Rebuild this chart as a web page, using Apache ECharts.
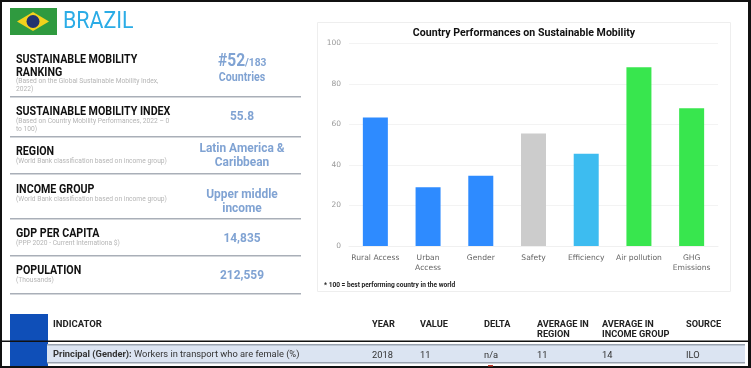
<!DOCTYPE html>
<html>
<head>
<meta charset="utf-8">
<style>
html, body { margin: 0; padding: 0; background: #fff; }
#chart { width: 751px; height: 368px; }
</style>
<script src="https://cdn.jsdelivr.net/npm/echarts@6/dist/echarts.min.js"></script>
</head>
<body>
<div id="chart"></div>
<script>
var categories = ['Rural Access', 'Urban\nAccess', 'Gender', 'Safety', 'Efficiency', 'Air pollution', 'GHG\nEmissions'];
var scores = [63.4, 29, 34.7, 55.6, 45.5, 88.3, 68];
var yTicks = [0, 20, 40, 60, 80, 100];

var profileTitles = ['SUSTAINABLE MOBILITY\nRANKING', 'SUSTAINABLE MOBILITY INDEX', 'REGION', 'INCOME GROUP', 'GDP PER CAPITA', 'POPULATION'];
var profileNotes = [
  '(Based on the Global Sustainable Mobility Index,\n2022)',
  '(Based on Country Mobility Performances, 2022 \u2013 0\nto 100)',
  '(World Bank classification based on income group)',
  '(World Bank classification based on income group)',
  '(PPP 2020 - Current Internationa $)',
  '(Thousands)'
];
var profileValues = ['', '55.8', 'Latin America &\nCaribbean', 'Upper middle\nincome', '14,835', '212,559'];

var tableHeaders = ['YEAR', 'VALUE', 'DELTA', 'AVERAGE IN\nREGION', 'AVERAGE IN\nINCOME GROUP', 'SOURCE'];
var tableRow = ['2018', '11', 'n/a', '11', '14', 'ILO'];

var FONT = 'Roboto, sans-serif';
var SQUEEZE = 0.89; // the left panel text is narrower than its height
var VALUE_BLUE = '#80a3d3';
var barColours = ['#2e8bff', '#2e8bff', '#2e8bff', '#cccccc', '#3dbcf0', '#38e64e', '#38e64e'];
var titleY = [53, 105, 145, 183, 227, 264];
var noteY = [77, 117, 157, 195, 239, 276];
var valueY = [0, 117, 156, 202, 239, 276];
var ruleY = [96, 136, 173, 218, 255, 293];
var colX = [372, 420, 484, 537, 602, 686];

var g = [];

function text(x, y, str, size, colour, weight, align, lineHeight, scaleX) {
  g.push({
    type: 'text', x: x, y: y, scaleX: scaleX || 1, silent: true, z: 10,
    style: {
      text: str, fontFamily: FONT, fontSize: size, fill: colour, fontWeight: weight || 'normal',
      align: align || 'left', verticalAlign: 'top', lineHeight: lineHeight || size * 1.2
    }
  });
}
function rect(x, y, w, h, fill, stroke) {
  g.push({
    type: 'rect', shape: {x: x, y: y, width: w, height: h}, silent: true, z: 1,
    style: {fill: fill, stroke: stroke || null, lineWidth: stroke ? 1 : 0}
  });
}

// outer frame
rect(0, 0, 751, 2, '#111');
rect(0, 0, 2, 368, '#111');
rect(748, 0, 3, 368, '#111');
rect(0, 366, 751, 2, '#111');

// flag
rect(10, 8, 47, 27, '#2f9a3f');
g.push({type: 'polygon', shape: {points: [[17, 21.5], [33, 12], [49, 21.5], [33, 31]]}, silent: true, z: 2, style: {fill: '#f2d21c'}});
g.push({type: 'circle', shape: {cx: 33, cy: 21.5, r: 6.5}, silent: true, z: 3, style: {fill: '#22346f'}});
text(63, 8, 'BRAZIL', 24, '#2bace6', 'normal', 'left', 0, SQUEEZE);

// left column
profileTitles.forEach(function (t, i) {
  text(16, titleY[i], t, 12, '#111', 'bold', 'left', 13, SQUEEZE);
  text(16, noteY[i], profileNotes[i], 7.5, '#b5b5b5', 'normal', 'left', 8, SQUEEZE);
  rect(10, ruleY[i], 291, 1.6, '#a9afb8');
  if (profileValues[i]) {
    text(242, valueY[i] - (profileValues[i].indexOf('\n') > -1 ? 14 : 7), profileValues[i], 13.4, VALUE_BLUE, 'bold', 'center', 14, SQUEEZE);
  }
});
text(218, 51, '#52', 17.5, VALUE_BLUE, 'bold', 'left', 0, SQUEEZE);
text(245, 56, '/183', 11.5, VALUE_BLUE, 'bold', 'left', 0, SQUEEZE);
text(242, 71, 'Countries', 12, VALUE_BLUE, 'bold', 'center', 0, SQUEEZE);

// chart card
g.push({
  type: 'rect', shape: {x: 317.5, y: 22.5, width: 413, height: 269}, silent: true, z: 0,
  style: {fill: '#fff', stroke: '#eeeeee', lineWidth: 1}
});
text(324, 281, '* 100 = best performing country in the world', 7.2, '#222', 'bold', 'left', 0, 0.917);

// table
rect(10, 314, 38, 52, '#0f4fb8');
text(53, 319, 'INDICATOR', 9.5, '#222', 'bold');
tableHeaders.forEach(function (h, i) {
  text(colX[i], 319, h, 9.2, '#222', 'bold', 'left', 10.5);
});
rect(0, 340.5, 748, 1.4, '#111');
rect(47, 345, 698, 18, '#dbe4f2');
rect(47, 344, 698, 1.4, '#9aa3b0');
rect(47, 362, 698, 1.4, '#9aa3b0');
g.push({
  type: 'text', x: 53, y: 350, silent: true, z: 10,
  style: {
    text: '{b|Principal (Gender):} Workers in transport who are female (%)',
    fontFamily: FONT, fontSize: 9.3, fill: '#333',
    rich: {b: {fontFamily: FONT, fontSize: 9.3, fontWeight: 'bold', fill: '#333'}}
  }
});
tableRow.forEach(function (v, i) {
  text(colX[i], 350, v, 9.3, '#333');
});
rect(488, 365, 5, 1.5, '#c0392b');

var chart = echarts.init(document.getElementById('chart'));
chart.setOption({
  animation: false,
  backgroundColor: '#fff',
  title: {
    text: 'Country Performances on Sustainable Mobility',
    left: 519, top: 23, textAlign: 'center',
    textStyle: {fontFamily: FONT, fontSize: 10.6, fontWeight: 'bold', color: '#111'}
  },
  grid: {left: 349, right: 33, top: 43.5, height: 202.5},
  xAxis: {
    type: 'category',
    data: categories,
    axisLine: {lineStyle: {color: '#f0f0f0'}},
    axisTick: {show: false},
    axisLabel: {
      interval: 0, margin: 7, lineHeight: 10,
      fontFamily: 'DejaVu Sans', fontSize: 7.6, color: '#666'
    }
  },
  yAxis: {
    type: 'value', min: 0, max: 100, interval: 20,
    axisLine: {show: false},
    axisTick: {show: false},
    splitLine: {lineStyle: {color: '#f3f3f3'}},
    axisLabel: {
      margin: 8, fontFamily: 'DejaVu Sans', fontSize: 7.5, color: '#999',
      formatter: function (v) { return yTicks.indexOf(v) > -1 ? v : ''; }
    }
  },
  series: [{
    type: 'bar',
    data: scores,
    barWidth: 25,
    itemStyle: {color: function (p) { return barColours[p.dataIndex]; }}
  }],
  graphic: g
});
</script>
</body>
</html>
